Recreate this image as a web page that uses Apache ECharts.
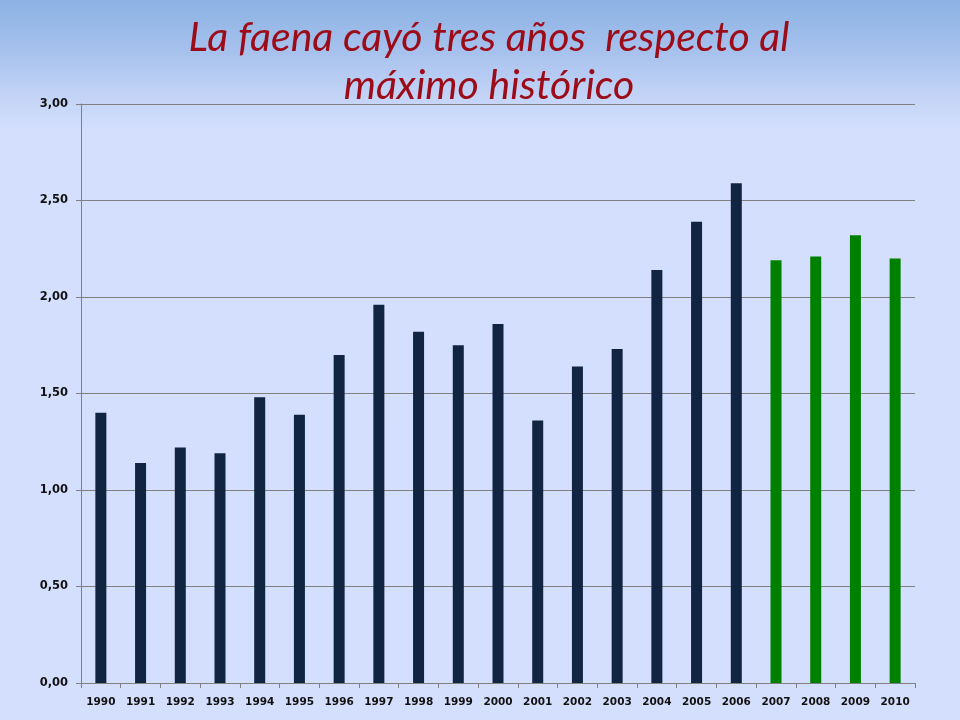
<!DOCTYPE html>
<html>
<head>
<meta charset="utf-8">
<script src="https://cdn.jsdelivr.net/npm/echarts@6/dist/echarts.min.js"></script>
<style>
html,body{margin:0;padding:0;}
#c{width:960px;height:720px;}
</style>
</head>
<body>
<div id="c"></div>
<script>
const years = ['1990','1991','1992','1993','1994','1995','1996','1997','1998','1999','2000','2001','2002','2003','2004','2005','2006','2007','2008','2009','2010'];
const values = [1.40,1.14,1.22,1.19,1.48,1.39,1.70,1.96,1.82,1.75,1.86,1.36,1.64,1.73,2.14,2.39,2.59,2.19,2.21,2.32,2.20];
const firstGreenYear = '2007';
const yTicks = ['0,00','0,50','1,00','1,50','2,00','2,50','3,00'];

const chart = echarts.init(document.getElementById('c'));
const gi = years.indexOf(firstGreenYear);
chart.setOption({
  backgroundColor: {type:'linear',x:0,y:0,x2:0,y2:1,colorStops:[
    {offset:0,color:'#8cb2e3'},{offset:0.07,color:'#a6c1ed'},{offset:0.14,color:'#c6d5f7'},{offset:0.18,color:'#d3dffc'},{offset:1,color:'#d4dffd'}]},
  title: {
    text: 'La faena cayó tres años  respecto al\nmáximo histórico',
    left: 484, top: 9, textAlign: 'center',
    textStyle: {fontFamily:'Lato', fontStyle:'italic', fontWeight:'normal', fontSize:41, color:'#9c0c18', lineHeight:48}
  },
  grid: {left:81, right:45, top:104, bottom:37},
  xAxis: {
    type:'category', data: years,
    axisLine:{lineStyle:{color:'#808080',width:1}},
    axisTick:{show:true, length:5, lineStyle:{color:'#808080'}},
    axisLabel:{interval:0, fontFamily:'DejaVu Sans', fontWeight:'bold', fontSize:10.5, color:'#111', margin:14}
  },
  yAxis: {
    type:'value', min:0, max:3, interval:0.5,
    axisLine:{show:true, lineStyle:{color:'#808080'}},
    axisTick:{show:true, length:5, lineStyle:{color:'#808080'}},
    splitLine:{lineStyle:{color:'#808080'}},
    axisLabel:{fontFamily:'DejaVu Sans', fontWeight:'bold', fontSize:11.5, color:'#111', margin:13,
      formatter: v => yTicks[Math.round(v/0.5)]}
  },
  series: [{
    type:'bar', barWidth:11, animation:false,
    data: values.map((v,i)=>({value:v, itemStyle:{color: i>=gi ? '#008000' : '#112442'}}))
  }]
});
</script>
</body>
</html>
